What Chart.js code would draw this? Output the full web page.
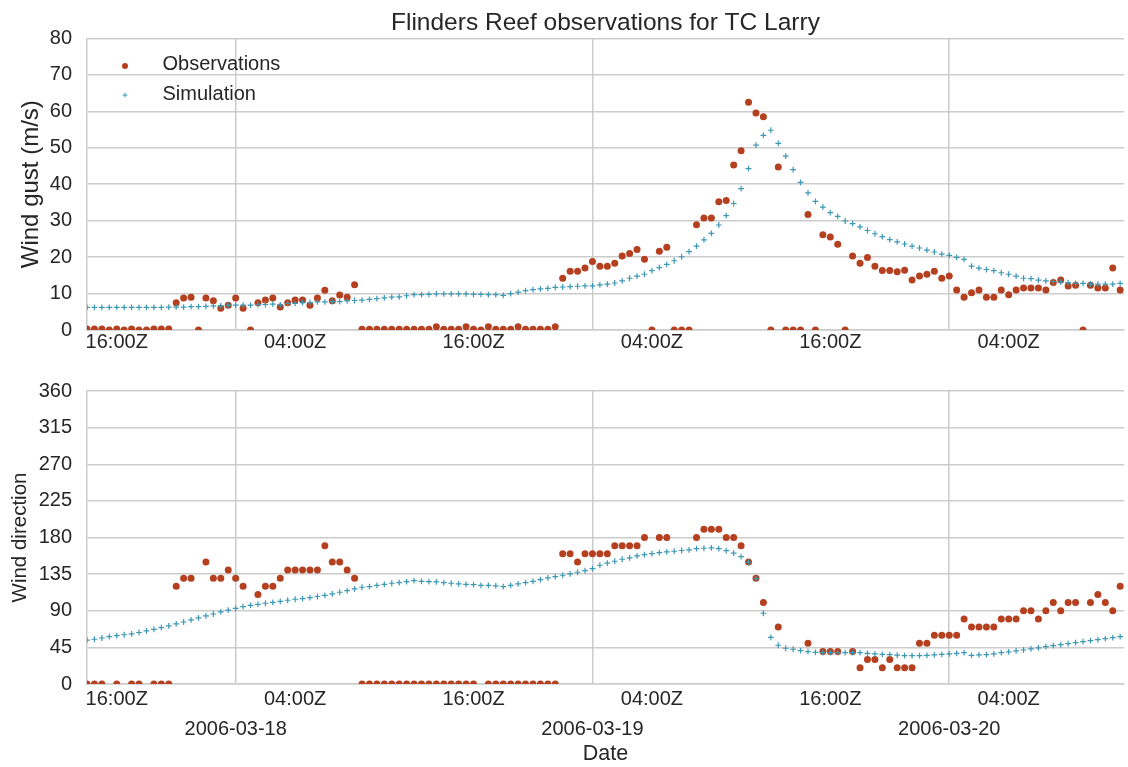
<!DOCTYPE html>
<html>
<head>
<meta charset="utf-8">
<script src="https://cdn.jsdelivr.net/npm/chart.js@4.4.1/dist/chart.umd.min.js"></script>
<style>
html,body{margin:0;padding:0;background:#ffffff;}
#wrap{position:relative;width:1128px;height:767px;overflow:hidden;background:#ffffff;}
canvas{position:absolute;left:0;}
#c1{top:0;}
#c2{top:360px;}
</style>
</head>
<body>
<div id="wrap">
<canvas id="c1" width="1128" height="360"></canvas>
<canvas id="c2" width="1128" height="407"></canvas>
</div>
<script>
// Time of each record, hours relative to 2006-03-18 00:00Z (half-hourly records)
const hours = [
 -10,-9.5,-9,-8.5,-8,-7.5,-7,-6.5,-6,-5.5,-5,-4.5,-4,-3.5,-3,-2.5,-2,-1.5,-1,-0.5,
 0,0.5,1,1.5,2,2.5,3,3.5,4,4.5,5,5.5,6,6.5,7,7.5,8,8.5,9,9.5,
 10,10.5,11,11.5,12,12.5,13,13.5,14,14.5,15,15.5,16,16.5,17,17.5,18,18.5,19,19.5,
 20,20.5,21,21.5,22,22.5,23,23.5,24,24.5,25,25.5,26,26.5,27,27.5,28,28.5,29,29.5,
 30,30.5,31,31.5,32,32.5,33,33.5,34,34.5,35,35.5,36,36.5,37,37.5,38,38.5,39,39.5,
 40,40.5,41,41.5,42,42.5,43,43.5,44,44.5,45,45.5,46,46.5,47,47.5,48,48.5,49,49.5,
 50,50.5,51,51.5,52,52.5,53,53.5,54,54.5,55,55.5,56,56.5,57,57.5,58,58.5,59,59.5
];

// Observed wind gust (m/s)
const obsGust = [
 0.3,0.3,0.3,0,0.3,0,0.3,0,0,0.3,0.3,0.3,
 7.5,8.8,9.0,0,8.8,8.0,6.0,6.8,8.8,6.0,0,7.5,8.2,8.8,6.3,7.5,8.2,8.2,6.8,8.8,10.9,8.0,9.6,9.0,12.4,
 0.2,0.2,0.2,0.2,0.2,0.2,0.2,0.2,0.2,0.2,0.9,0.2,0.2,0.2,0.9,0.2,0,0.9,0.2,0.2,0.2,0.9,0.2,0.2,0.2,0.2,0.9,
 14.2,16.1,16.1,17.0,18.8,17.5,17.5,18.3,20.3,21.0,22.1,19.4,0,21.6,22.7,0,0,0,28.9,30.7,30.7,35.2,35.5,45.3,49.2,62.5,59.5,58.5,0,44.7,0,0,0,31.7,0,26.1,25.5,23.5,0,20.3,18.3,19.9,17.5,
 16.3,16.3,16.0,16.4,13.7,14.8,15.3,16.1,14.2,14.8,11.0,9.0,10.2,11.0,9.0,9.0,11.0,9.7,11.0,11.5,11.5,11.5,11.0,13.0,13.7,12.1,12.3,0,12.3,11.5,11.5,17.0,11.0
];

// Simulated wind gust (m/s)
const simGust = [
 6.2,6.2,6.2,6.2,6.2,6.2,6.2,6.2,6.2,6.2,6.2,6.3,
 6.3,6.3,6.4,6.4,6.5,6.6,6.6,6.8,6.8,6.8,6.8,7.0,7.0,7.1,6.9,7.3,7.3,7.5,7.5,7.7,7.7,7.8,7.8,8.0,8.1,
 8.2,8.4,8.6,8.8,9.0,9.1,9.4,9.7,9.7,9.8,9.9,9.9,9.9,9.9,9.9,9.8,9.8,9.7,9.7,9.5,10.0,10.4,10.8,11.1,11.3,11.4,11.7,11.8,11.9,12.0,12.1,12.1,12.4,12.6,12.9,13.5,
 14.2,14.8,15.3,16.3,17.1,18.0,19.0,20.1,21.5,23.0,24.7,26.5,28.8,31.4,34.7,38.8,44.3,50.7,53.4,54.8,51.2,47.7,44.0,40.5,37.6,35.3,33.7,32.2,31.2,29.9,29.2,28.3,27.3,26.4,
 25.6,24.8,24.2,23.6,23.0,22.5,21.9,21.4,20.8,20.5,19.9,19.4,17.5,17.0,16.6,16.3,15.7,15.3,14.8,14.2,14.1,13.7,13.5,13.3,13.2,13.0,12.8,12.8,12.6,12.6,12.6,12.6,12.8
];

// Observed wind direction (degrees); null = no record
const obsDir = [
 0,0,0,null,0,null,0,0,null,0,0,0,
 120,130,130,null,150,130,130,140,130,120,null,110,120,120,130,140,140,140,140,140,170,150,150,140,130,
 0,0,0,0,0,0,0,0,0,0,0,0,0,0,0,0,null,0,0,0,0,0,0,0,0,0,0,
 160,160,150,160,160,160,160,170,170,170,170,180,null,180,180,null,null,null,180,190,190,190,180,180,170,150,130,100,null,70,null,null,null,50,null,40,40,40,null,40,20,30,30,
 20,30,20,20,20,50,50,60,60,60,60,80,70,70,70,70,80,80,80,90,90,80,90,100,90,100,100,null,100,110,100,90,120
];

// Simulated wind direction (degrees)
const simDir = [
 53.8,55,56.5,58.2,59.5,60.5,61.5,63.3,65.2,67.2,69.2,71.5,
 73.8,76.2,78.7,81.2,83.6,86,88.5,90.8,93.0,95,96.7,97.9,99.2,100.4,101.6,102.9,104.1,105,106.1,107.5,109,110.8,112.7,114.8,116.8,
 118.9,119.7,121.3,122.5,123.8,124.6,125.8,127.1,126.2,125.8,125.4,124.6,123.8,123.0,122.5,122.1,121.3,121.3,120.5,119.7,121.3,123.0,124.6,126.2,128.3,130.3,132,133.6,135.3,137.3,139.4,141.8,145.9,148.4,150.8,153.3,
 154.9,157.4,159,160.2,161.4,162.3,163.1,164,164.8,166.4,166.8,167.2,166.4,163.9,160.7,156.5,149.6,129.5,86.9,57.4,47.6,43.9,42.7,41,39.8,38.9,38.5,38.5,38.5,38.5,38.5,38.5,37.7,36.9,
 36.5,36,35.5,34.8,34.8,34.8,35.2,35.7,36.3,36.9,37.7,38.5,35.2,35.7,36.1,36.9,38.5,39.4,40.6,41.8,43.1,44.3,45.9,47.1,48.4,49.6,50.8,52.1,53.3,54.5,55.8,57,58.2
];

// X tick positions (hours from 2006-03-18 00:00Z) and their labels
const tickHours = [-8, 0, 4, 16, 24, 28, 40, 48, 52];
const timeLabels = ['16:00Z', '', '04:00Z', '16:00Z', '', '04:00Z', '16:00Z', '', '04:00Z'];
const dateLabels = ['', '2006-03-18', '', '', '2006-03-19', '', '', '2006-03-20', ''];
const xRange = [-10, 59.75];

const gustTicks = [0, 10, 20, 30, 40, 50, 60, 70, 80];
const dirTicks = [0, 45, 90, 135, 180, 225, 270, 315, 360];

const OBS = '#b5401f';
const SIM = '#3c98b4';
const GRID = '#cccccc';
const TXT = '#262626';
const FAM = '"Liberation Sans", Arial, Helvetica, sans-serif';

Chart.defaults.font.family = FAM;
Chart.defaults.color = TXT;

function pts(vals) {
  const out = [];
  vals.forEach((v, i) => { if (v !== null) out.push({x: hours[i], y: v}); });
  return out;
}

const legendPlugin = {
  id: 'insideLegend',
  afterDraw(chart) {
    const ctx = chart.ctx;
    const a = chart.chartArea;
    ctx.save();
    const mx = a.left + 38;
    ctx.fillStyle = OBS;
    ctx.beginPath();
    ctx.arc(mx, a.top + 27.7, 3.0, 0, Math.PI * 2);
    ctx.fill();
    ctx.strokeStyle = SIM;
    ctx.lineWidth = 1;
    ctx.beginPath();
    ctx.moveTo(mx - 2.4, a.top + 56.7); ctx.lineTo(mx + 2.4, a.top + 56.7);
    ctx.moveTo(mx, a.top + 54.3); ctx.lineTo(mx, a.top + 59.1);
    ctx.stroke();
    ctx.fillStyle = TXT;
    ctx.font = '20px ' + FAM;
    ctx.textBaseline = 'middle';
    ctx.textAlign = 'left';
    ctx.fillText('Observations', a.left + 75.5, a.top + 26);
    ctx.fillText('Simulation', a.left + 75.5, a.top + 56.3);
    ctx.restore();
  }
};

function makeChart(canvas, cfg) {
  return new Chart(canvas, {
    type: 'scatter',
    data: {
      datasets: [
        {
          label: 'Observations',
          data: pts(cfg.obs),
          pointStyle: 'circle',
          pointRadius: 3.5,
          pointHoverRadius: 3.5,
          backgroundColor: OBS,
          borderColor: OBS,
          borderWidth: 0,
          showLine: false,
          clip: 0,
          order: 2
        },
        {
          label: 'Simulation',
          data: pts(cfg.sim),
          pointStyle: 'cross',
          pointRadius: 2.9,
          pointHoverRadius: 2.9,
          backgroundColor: SIM,
          borderColor: SIM,
          borderWidth: 1.2,
          showLine: false,
          clip: 0,
          order: 1
        }
      ]
    },
    options: {
      responsive: false,
      animation: false,
      events: [],
      layout: { padding: { top: cfg.padTop, left: 0, right: 0, bottom: 0 } },
      plugins: {
        legend: { display: false },
        tooltip: { enabled: false },
        title: cfg.title ? {
          display: true,
          fullSize: false,
          text: cfg.title,
          color: TXT,
          font: { size: 24.5, weight: 'normal', family: FAM, lineHeight: 1.2 },
          padding: { top: 9.0, bottom: 0 }
        } : { display: false }
      },
      scales: {
        x: {
          type: 'linear',
          min: xRange[0],
          max: xRange[1],
          afterBuildTicks(scale) {
            scale.ticks = tickHours.map(v => ({ value: v }));
          },
          afterFit(scale) { scale.height = cfg.xHeight; },
          grid: {
            drawTicks: false,
            lineWidth: 1.5,
            color: (c) => (c.tick && c.tick.value % 24 === 0) ? GRID : 'rgba(0,0,0,0)'
          },
          border: { display: true, color: GRID, width: 1.5 },
          ticks: {
            autoSkip: false,
            maxRotation: 0,
            padding: 0,
            color: TXT,
            font: { size: 20, family: FAM, lineHeight: cfg.tickLH },
            callback: (value) => {
              const i = tickHours.indexOf(value);
              if (i < 0) return '';
              if (cfg.showDates && dateLabels[i] !== '') return ['', dateLabels[i]];
              return timeLabels[i];
            }
          },
          title: cfg.xTitle ? {
            display: true,
            text: cfg.xTitle,
            color: TXT,
            font: { size: 21.5, family: FAM, lineHeight: 1.2 },
            padding: { top: 0, bottom: 0 }
          } : { display: false }
        },
        y: {
          type: 'linear',
          min: cfg.yTicks[0],
          max: cfg.yTicks[cfg.yTicks.length - 1],
          afterBuildTicks(scale) {
            scale.ticks = cfg.yTicks.map(v => ({ value: v }));
          },
          afterFit(scale) { scale.width = 87; },
          grid: { drawTicks: false, lineWidth: 1.5, color: GRID },
          border: { display: true, color: GRID, width: 1.5 },
          ticks: {
            padding: 15,
            color: TXT,
            font: { size: 20, family: FAM },
            callback: (v) => String(v)
          },
          title: {
            display: true,
            text: cfg.yTitle,
            color: TXT,
            font: { size: cfg.yTitleSize, family: FAM, lineHeight: 1.2 },
            padding: { top: cfg.yTitlePad, bottom: 0 }
          }
        }
      }
    },
    plugins: cfg.legend ? [legendPlugin] : []
  });
}

makeChart(document.getElementById('c1'), {
  obs: obsGust, sim: simGust,
  yTicks: gustTicks, yTitle: 'Wind gust (m/s)', yTitlePad: 17, yTitleSize: 24,
  title: 'Flinders Reef observations for TC Larry',
  padTop: 0, xHeight: 30, tickLH: 1.2, showDates: false, xTitle: null, legend: true
});

makeChart(document.getElementById('c2'), {
  obs: obsDir, sim: simDir,
  yTicks: dirTicks, yTitle: 'Wind direction', yTitlePad: 8, yTitleSize: 20.5,
  title: null,
  padTop: 31, xHeight: 83, tickLH: 1.5, showDates: true, xTitle: 'Date', legend: false
});
</script>
</body>
</html>
